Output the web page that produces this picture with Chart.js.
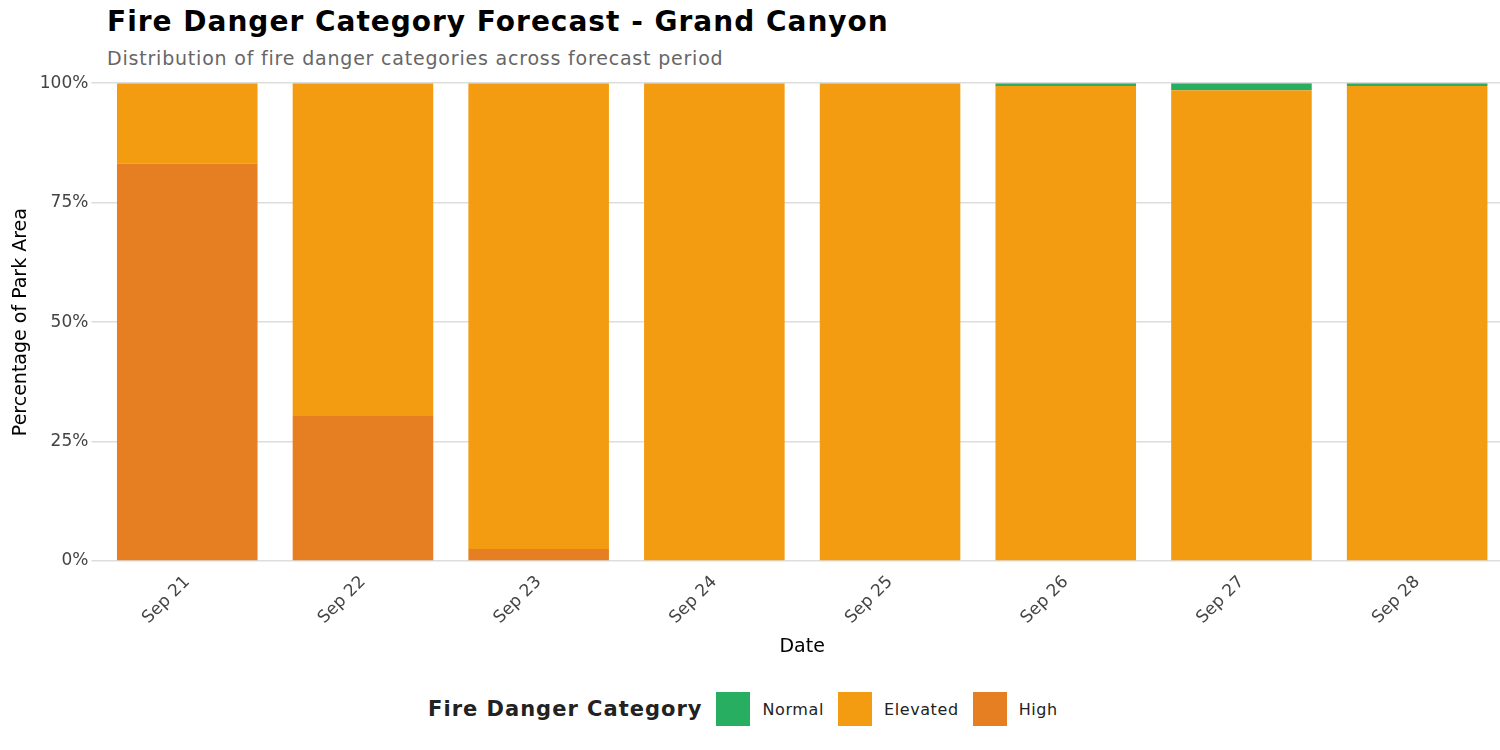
<!DOCTYPE html>
<html>
<head>
<meta charset="utf-8">
<script src="https://cdn.jsdelivr.net/npm/chart.js@4"></script>
<style>
  body { margin: 0; background: #fff; font-family: "DejaVu Sans", sans-serif; overflow: hidden; }
  #head { position: absolute; left: 107px; top: 5px; }
  #title { font-size: 28px; font-weight: bold; color: #000; letter-spacing: 1px; }
  #sub { font-size: 19px; color: #666; margin-top: 9px; letter-spacing: 0.8px; }
  #wrap { position: absolute; left: 0; top: 70px; width: 1505px; height: 592px; }
  #legend { position: absolute; top: 692px; left: 0; width: 1500px; display: flex; justify-content: center; align-items: center; font-size: 16px; color: #222; letter-spacing: 0.6px; }
  #legend .lt { font-weight: bold; font-size: 21px; margin-right: 14px; letter-spacing: 1px; }
  #legend .sw { width: 34px; height: 34px; display: inline-block; margin-right: 12px; }
  #legend .lb { margin-right: 14px; }
</style>
</head>
<body>
<div id="head">
  <div id="title">Fire Danger Category Forecast - Grand Canyon</div>
  <div id="sub">Distribution of fire danger categories across forecast period</div>
</div>
<div id="wrap"><canvas id="chart"></canvas></div>
<div id="legend"></div>
<script>
const dates = ['Sep 21', 'Sep 22', 'Sep 23', 'Sep 24', 'Sep 25', 'Sep 26', 'Sep 27', 'Sep 28'];
const highPct = [83.2, 30.5, 2.5, 0, 0, 0, 0, 0];
const elevatedPct = [16.8, 69.5, 97.5, 100, 100, 99.4, 98.5, 99.4];
const normalPct = [0, 0, 0, 0, 0, 0.6, 1.5, 0.6];
const yTicks = [0, 25, 50, 75, 100];

const categories = [
    { label: 'Normal', color: '#27ae60', data: normalPct },
    { label: 'Elevated', color: '#f39c12', data: elevatedPct },
    { label: 'High', color: '#e67e22', data: highPct }
];

const legend = document.getElementById('legend');
legend.innerHTML = '<span class="lt">Fire Danger Category</span>' +
    categories.map(c => '<span class="sw" style="background:' + c.color + '"></span><span class="lb">' + c.label + '</span>').join('');

new Chart(document.getElementById('chart'), {
    type: 'bar',
    data: {
        labels: dates,
        datasets: categories.slice().reverse().map(c => ({
            label: c.label,
            data: c.data,
            backgroundColor: c.color,
            categoryPercentage: 0.8,
            barPercentage: 1.0
        }))
    },
    options: {
        responsive: true,
        maintainAspectRatio: false,
        animation: false,
        layout: { padding: { top: 6, right: 0, left: 6 } },
        plugins: { legend: { display: false }, tooltip: { enabled: false } },
        scales: {
            x: {
                stacked: true,
                grid: { display: false },
                border: { display: false },
                ticks: { color: '#444', font: { size: 17, family: 'DejaVu Sans' }, maxRotation: 45, minRotation: 45 },
                title: { display: true, text: 'Date', color: '#000', font: { size: 19, family: 'DejaVu Sans' } }
            },
            y: {
                stacked: true,
                min: 0,
                max: 100,
                afterBuildTicks: axis => { axis.ticks = yTicks.map(v => ({ value: v })); },
                grid: { color: '#dddddd', lineWidth: 1.5 },
                border: { display: false },
                ticks: { color: '#444', font: { size: 17, family: 'DejaVu Sans' }, callback: v => v + '%' },
                title: { display: true, text: 'Percentage of Park Area', color: '#000', font: { size: 19, family: 'DejaVu Sans' } }
            }
        }
    }
});
</script>
</body>
</html>
